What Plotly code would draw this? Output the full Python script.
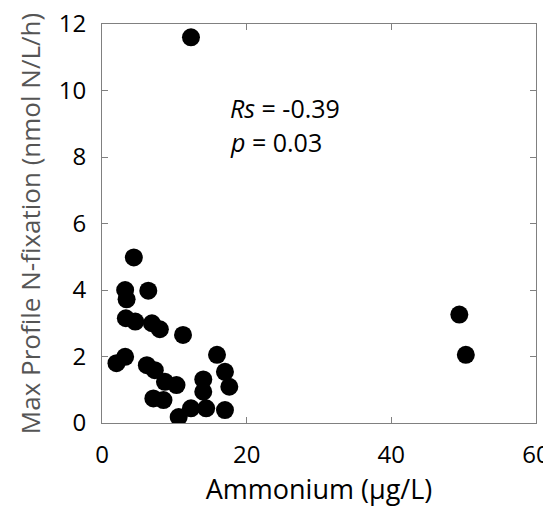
import plotly.graph_objects as go

# Ammonium (ug/L) vs max profile N-fixation (nmol N/L/h)
ammonium = [4.4, 3.2, 6.4, 3.4, 3.3, 4.6, 6.9, 8.0, 11.2, 3.2, 2.0, 6.2, 7.3, 15.9,
            8.7, 10.3, 14.0, 17.0, 17.6, 14.0, 7.1, 8.5, 10.6, 12.3, 14.4, 17.0,
            12.3, 49.4, 50.3]
nfix = [4.98, 4.0, 3.98, 3.72, 3.15, 3.05, 3.0, 2.82, 2.65, 1.99, 1.8, 1.74, 1.59, 2.05,
        1.24, 1.14, 1.31, 1.54, 1.09, 0.94, 0.74, 0.69, 0.18, 0.44, 0.44, 0.39,
        11.6, 3.26, 2.05]

x_ticks = [0, 20, 40, 60]
y_ticks = [0, 2, 4, 6, 8, 10, 12]

font = "Open Sans, Noto Sans, sans-serif"
axis_grey = "#808080"

fig = go.Figure(go.Scatter(
    x=ammonium, y=nfix, mode="markers",
    marker=dict(size=18, color="black", line=dict(width=0)),
    hoverinfo="x+y",
))

fig.add_annotation(x=17.4, y=9.47, xref="x", yref="y", xanchor="left", yanchor="middle",
                   text="<i>Rs</i> = -0.39", showarrow=False,
                   font=dict(family=font, size=25, color="black"))
fig.add_annotation(x=17.4, y=8.46, xref="x", yref="y", xanchor="left", yanchor="middle",
                   text="<i>p</i> = 0.03", showarrow=False,
                   font=dict(family=font, size=25, color="black"))

# page body has an 8px margin, so the figure is sized to fit inside the window
fig.update_layout(
    width=543, height=506,
    margin=dict(l=94, r=15, t=16, b=91),
    paper_bgcolor="white", plot_bgcolor="white",
    showlegend=False,
    font=dict(family=font, size=24, color="black"),
)
fig.update_xaxes(
    range=[0, 60], tickvals=x_ticks, showgrid=False, zeroline=False, automargin=False,
    showline=True, linecolor=axis_grey, linewidth=1, mirror="ticks",
    ticks="inside", ticklen=6, tickcolor=axis_grey, ticklabeloverflow="allow",
    tickfont=dict(size=24, color="black"), ticklabelstandoff=10,
    title=dict(text="Ammonium (μg/L)", font=dict(size=27, color="black"), standoff=3),
)
fig.update_yaxes(
    range=[0, 12], tickvals=y_ticks, showgrid=False, zeroline=False, automargin=False,
    showline=True, linecolor=axis_grey, linewidth=1, mirror="ticks",
    ticks="inside", ticklen=6, tickcolor=axis_grey, ticklabeloverflow="allow",
    tickfont=dict(size=24, color="black"), ticklabelstandoff=10,
    title=dict(text="Max Profile N-fixation (nmol N/L/h)", font=dict(size=26, color="#555555"), standoff=10),
)

fig.write_html("out.html")
